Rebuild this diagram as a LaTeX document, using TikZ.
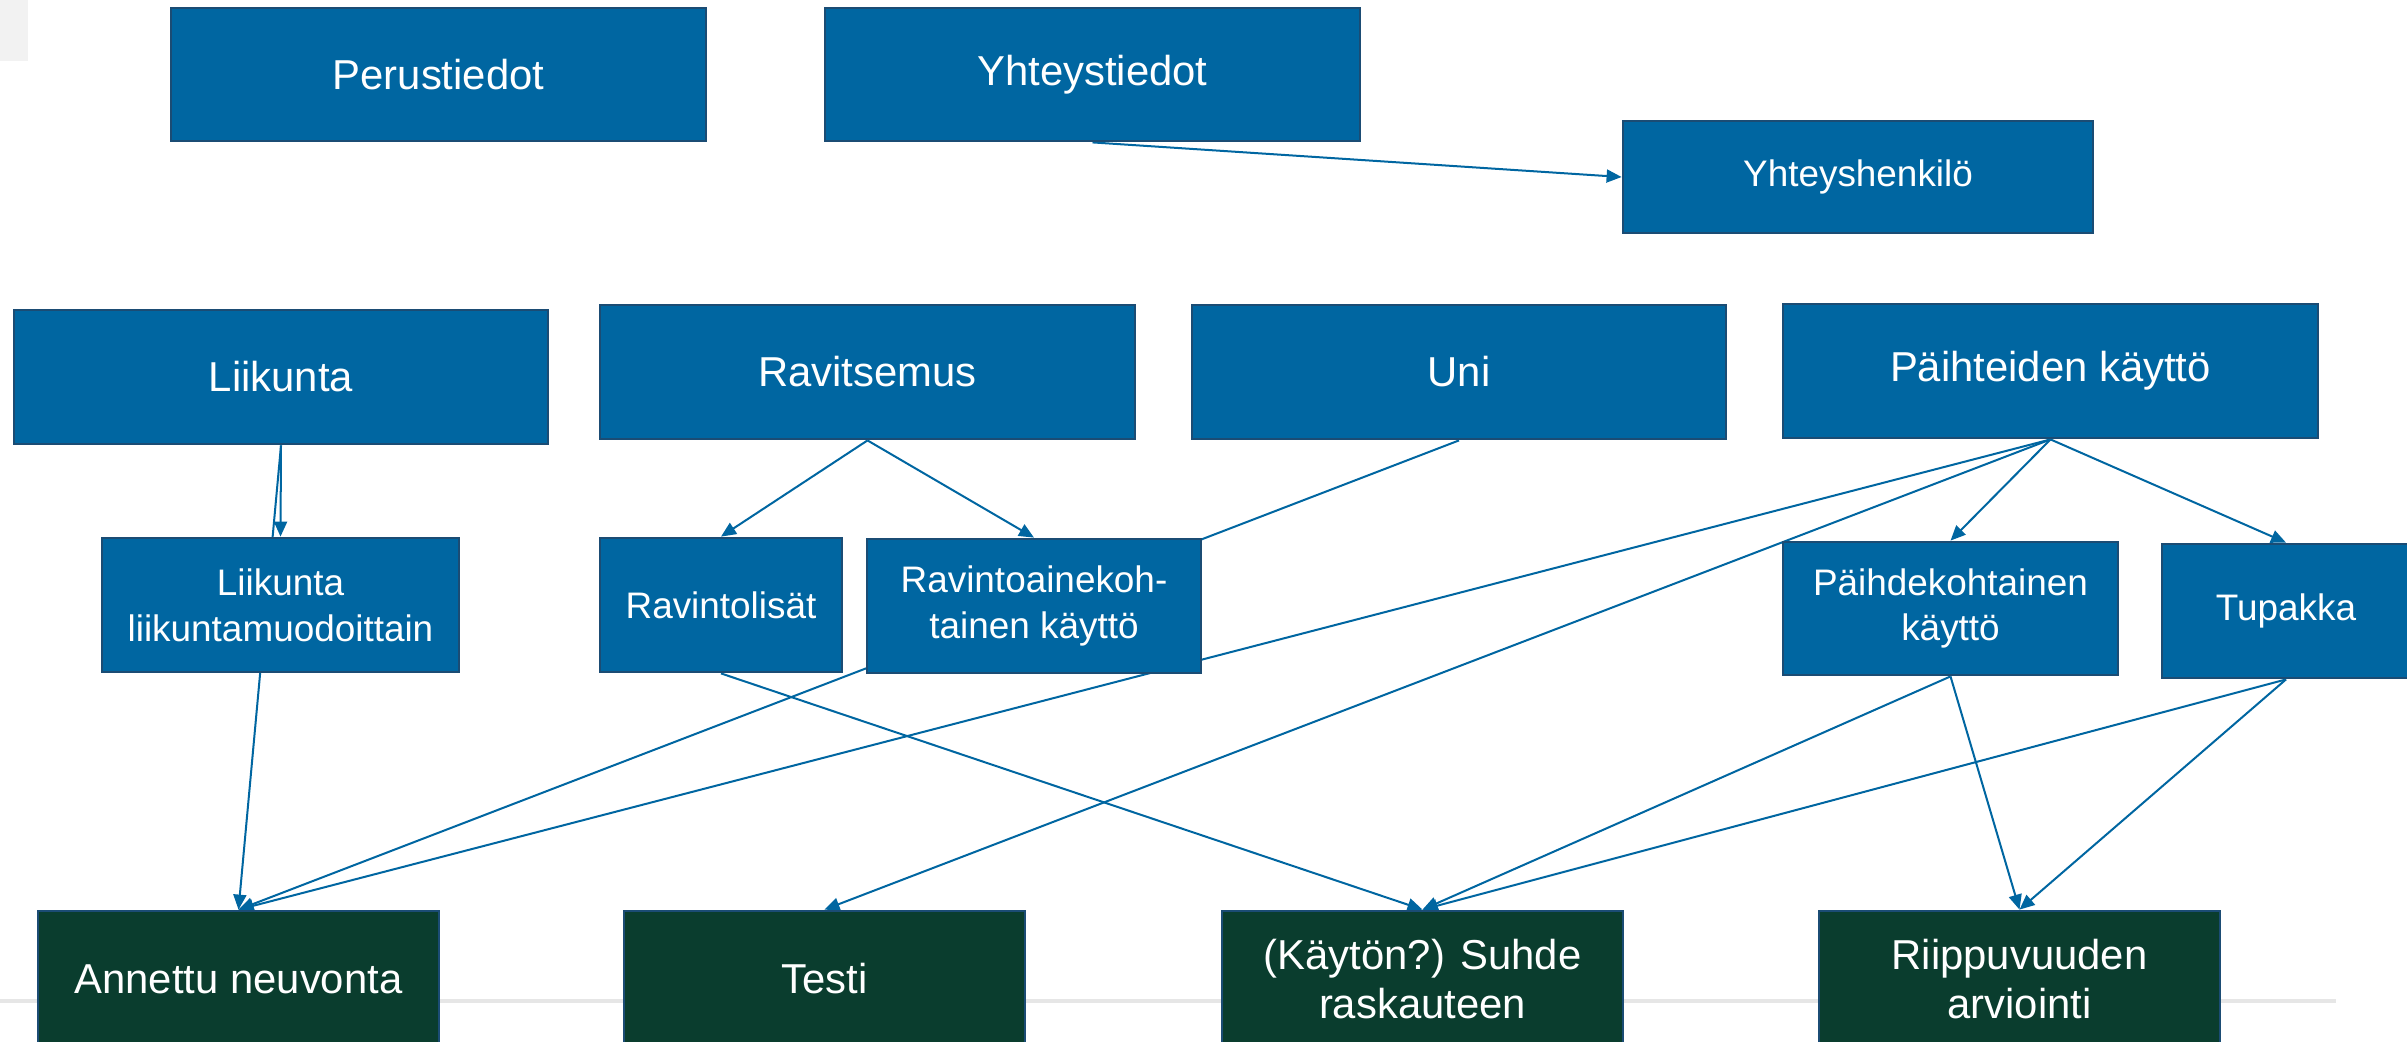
\documentclass[tikz,border=0pt]{standalone}
\usepackage{fontspec}
\setmainfont{Liberation Sans}
\usepackage{xcolor}
\usetikzlibrary{arrows.meta,backgrounds}

\definecolor{boxblue}{HTML}{0066A1}
\definecolor{edgeblue}{HTML}{1B4C74}
\definecolor{boxgreen}{HTML}{0A3D2E}
\definecolor{cornergrey}{HTML}{F2F2F2}
\definecolor{rulegrey}{HTML}{E6E6E6}

\begin{document}
\begin{tikzpicture}[
        bluebox/.style={draw=edgeblue,line width=0.8pt,fill=boxblue,text=white,align=center,inner sep=0pt},
        greenbox/.style={bluebox,fill=boxgreen,minimum width=4.01cm,minimum height=1.36cm,font=\fontsize{11.9}{14}\selectfont},
        big/.style={font=\fontsize{11.9}{14}\selectfont},
        small/.style={font=\fontsize{10.5}{13}\selectfont},
        link/.style={boxblue,line width=0.57pt,-{Triangle[length=1.5mm,width=1.3mm]}}
    ]
        \useasboundingbox (0,0) rectangle (24.07,-10.41);
        \clip (0,0) rectangle (24.07,-10.41);

        \fill[cornergrey] (0,0) rectangle (0.28,-0.61);
        \draw[rulegrey,line width=0.9pt] (0,-10.01) -- (23.36,-10.01);

        \coordinate (A) at (4.385,-0.745);
        \coordinate (B) at (10.925,-0.745);
        \coordinate (C) at (18.58,-1.77);
        \coordinate (D) at (2.81,-3.77);
        \coordinate (E) at (8.675,-3.72);
        \coordinate (F) at (14.59,-3.72);
        \coordinate (G) at (20.505,-3.71);
        \coordinate (H) at (2.805,-6.05);
        \coordinate (I) at (7.21,-6.05);
        \coordinate (J) at (10.34,-6.06);
        \coordinate (K) at (19.505,-6.085);
        \coordinate (L) at (22.86,-6.11);
        \coordinate (M) at (2.385,-9.79);
        \coordinate (N) at (8.245,-9.79);
        \coordinate (O) at (14.225,-9.79);
        \coordinate (Q) at (20.195,-9.79);

        \node[bluebox,big,minimum width=5.35cm,minimum height=1.33cm] (perus)      at (A) {Perustiedot};
        \node[bluebox,big,minimum width=5.35cm,minimum height=1.33cm] (yhteys)     at (B) {Yhteystiedot};
        \node[bluebox,small,minimum width=4.70cm,minimum height=1.12cm] (henkilo)  at (C) {Yhteyshenkilö};

        \node[bluebox,big,minimum width=5.34cm,minimum height=1.34cm] (liikunta)   at (D) {Liikunta};
        \node[bluebox,big,minimum width=5.35cm,minimum height=1.34cm] (ravitsemus) at (E) {Ravitsemus};
        \node[bluebox,big,minimum width=5.34cm,minimum height=1.34cm] (uni)        at (F) {Uni};
        \node[bluebox,big,minimum width=5.35cm,minimum height=1.34cm] (paihteet)   at (G) {Päihteiden käyttö};

        \node[bluebox,small,minimum width=3.57cm,minimum height=1.34cm] (lajit)    at (H) {Liikunta\\liikuntamuodoittain};
        \node[bluebox,small,minimum width=2.42cm,minimum height=1.34cm] (lisat)    at (I) {Ravintolisät};
        \node[bluebox,small,minimum width=3.34cm,minimum height=1.34cm] (aineet)   at (J) {Ravintoainekoh-\\tainen käyttö};
        \node[bluebox,small,minimum width=3.35cm,minimum height=1.33cm] (paihde)   at (K) {Päihdekohtainen\\käyttö};
        \node[bluebox,small,minimum width=2.48cm,minimum height=1.34cm] (tupakka)  at (L) {Tupakka};

        \node[greenbox] (neuvonta)   at (M) {Annettu neuvonta};
        \node[greenbox] (testi)      at (N) {Testi};
        \node[greenbox] (raskaus)    at (O) {(Käytön?) Suhde\\raskauteen};
        \node[greenbox] (riippuvuus) at (Q) {Riippuvuuden\\arviointi};

        \begin{scope}[on background layer]
            \draw[link] (yhteys.south) -- (henkilo.west);

            \draw[link] (liikunta.south)   -- (lajit.north);
            \draw[link] (liikunta.south)   -- (neuvonta.north);
            \draw[link] (ravitsemus.south) -- (lisat.north);
            \draw[link] (ravitsemus.south) -- (aineet.north);
            \draw[link] (uni.south)        -- (neuvonta.north);
            \draw[link] (paihteet.south)   -- (neuvonta.north);
            \draw[link] (paihteet.south)   -- (testi.north);
            \draw[link] (paihteet.south)   -- (paihde.north);
            \draw[link] (paihteet.south)   -- (tupakka.north);

            \draw[link] (lisat.south)   -- (raskaus.north);
            \draw[link] (paihde.south)  -- (raskaus.north);
            \draw[link] (tupakka.south) -- (raskaus.north);
            \draw[link] (paihde.south)  -- (riippuvuus.north);
            \draw[link] (tupakka.south) -- (riippuvuus.north);
        \end{scope}
    \end{tikzpicture}
\end{document}
